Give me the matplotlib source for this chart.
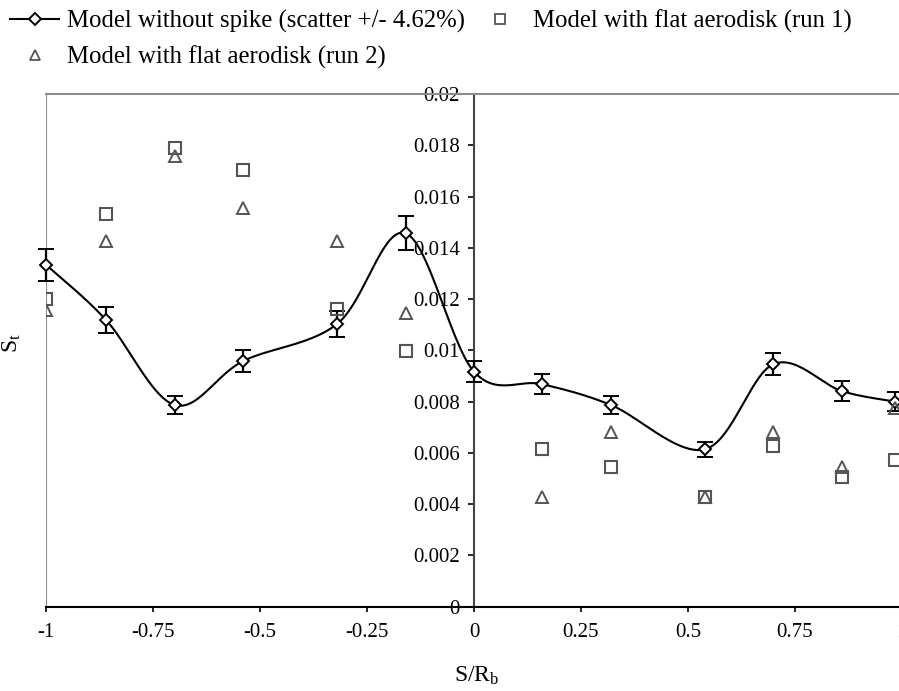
import numpy as np
import matplotlib
matplotlib.use("Agg")
import matplotlib.pyplot as plt
from matplotlib.lines import Line2D

plt.rcParams['font.family'] = ['Liberation Serif', 'DejaVu Serif']
plt.rcParams['mathtext.fontset'] = 'custom'
plt.rcParams['mathtext.rm'] = 'Liberation Serif'
plt.rcParams['mathtext.it'] = 'Liberation Serif:italic'

# ---- data ----
x_pos = [-1.0, -0.86, -0.70, -0.54, -0.32, -0.16, 0.0, 0.16, 0.32, 0.54, 0.70, 0.86, 0.985]
st_no_spike = [0.01333, 0.01118, 0.00787, 0.00958, 0.01103, 0.01457, 0.00917,
               0.00868, 0.00787, 0.00614, 0.00946, 0.00841, 0.00800]
scatter_pct = 4.62
st_run1 = [0.01200, 0.01531, 0.01788, 0.01704, 0.01160, 0.00999,
           0.00614, 0.00544, 0.00427, 0.00628, 0.00505, 0.00572]
st_run2 = [0.01157, 0.01427, 0.01758, 0.01557, 0.01427, 0.01145,
           0.00427, 0.00683, 0.00427, 0.00683, 0.00544, 0.00774]
x_runs = [-1.0, -0.86, -0.70, -0.54, -0.32, -0.16, 0.16, 0.32, 0.54, 0.70, 0.86, 0.985]
x_ticks = [-1, -0.75, -0.5, -0.25, 0, 0.25, 0.5, 0.75, 1]
x_ticklabels = ['-1', '-0.75', '-0.5', '-0.25', '0', '0.25', '0.5', '0.75', '1']
y_ticks = [0, 0.002, 0.004, 0.006, 0.008, 0.01, 0.012, 0.014, 0.016, 0.018, 0.02]
y_ticklabels = ['0', '0.002', '0.004', '0.006', '0.008', '0.01', '0.012', '0.014',
                '0.016', '0.018', '0.02']
labels = ['Model without spike (scatter +/- 4.62%)',
          'Model with flat aerodisk (run 1)',
          'Model with flat aerodisk (run 2)']


def smooth_curve(xs, ys, n=30):
    """Excel-style smoothed line: cubic Bezier with Catmull-Rom control points."""
    P = np.column_stack([xs, ys]).astype(float)
    out = []
    for i in range(len(P) - 1):
        p0 = P[i - 1] if i > 0 else P[i]
        p1 = P[i]
        p2 = P[i + 1]
        p3 = P[i + 2] if i + 2 < len(P) else P[i + 1]
        c1 = p1 + (p2 - p0) / 6.0
        c2 = p2 - (p3 - p1) / 6.0
        t = np.linspace(0, 1, n)[:, None]
        seg = ((1 - t) ** 3) * p1 + 3 * ((1 - t) ** 2) * t * c1 + 3 * (1 - t) * t ** 2 * c2 + t ** 3 * p2
        out.append(seg if i == 0 else seg[1:])
    out = np.vstack(out)
    return out[:, 0], out[:, 1]


fig = plt.figure(figsize=(8.99, 6.91), dpi=100)
W, H = 899, 691
left_px, right_px, top_px, bot_px = 46.3, 901.7, 94.0, 606.7
ax = fig.add_axes([left_px / W, 1 - bot_px / H, (right_px - left_px) / W, (bot_px - top_px) / H])

ax.set_xlim(-1, 1)
ax.set_ylim(0, 0.02)

gray = '#555555'
sx, sy = smooth_curve(x_pos, st_no_spike)
ax.plot(sx, sy, color='black', lw=1.5, zorder=3)
err = np.array(st_no_spike) * scatter_pct / 100.0
ax.errorbar(x_pos, st_no_spike, yerr=err, fmt='D', color='black', mfc='white', mec='black',
            ms=6.5, mew=1.4, ecolor='black', elinewidth=1.6, capsize=5.5, capthick=1.6,
            zorder=4, clip_on=False)
ax.plot(x_runs, st_run1, ls='none', marker='s', ms=8, mfc='none', mec=gray, mew=1.5, zorder=5)
ax.plot(x_runs, st_run2, ls='none', marker='^', ms=9, mfc='none', mec=gray, mew=1.4, zorder=5)

# axes styling
frame_gray = '#8c8c8c'
ax.spines['top'].set_color(frame_gray)
ax.spines['top'].set_linewidth(1.5)
ax.spines['right'].set_color(frame_gray)
ax.spines['left'].set_position(('data', 0))
ax.spines['left'].set_color('#444444')
ax.spines['left'].set_linewidth(1.5)
ax.spines['bottom'].set_color('black')
ax.spines['bottom'].set_linewidth(1.5)
ax.axvline(-1, color=frame_gray, lw=1.5, zorder=1)

ax.set_xticks(x_ticks)
ax.set_xticklabels(x_ticklabels, fontsize=15)
ax.set_yticks(y_ticks)
ax.set_yticklabels(y_ticklabels, fontsize=15)
ax.tick_params(axis='x', direction='out', length=3.8, width=1.2, pad=8, colors='black')
ax.tick_params(axis='y', direction='out', length=4, width=1.2, pad=6, colors='black')

fig.text(477 / W, 1 - 676 / H, 'S/R$_{\\mathrm{b}}$', fontsize=17, ha='center', va='center')
fig.text(12 / W, 1 - 343 / H, 'S$_{\\mathrm{t}}$', fontsize=17, ha='center', va='center', rotation=90)

h1 = Line2D([], [], color='black', lw=1.5, marker='D', ms=6, mfc='white', mec='black', mew=1.4)
h2 = Line2D([], [], ls='none', marker='s', ms=7, mfc='none', mec=gray, mew=1.3)
h3 = Line2D([], [], ls='none', marker='^', ms=7.5, mfc='none', mec=gray, mew=1.3)
fig.legend([h1, h3, h2], [labels[0], labels[2], labels[1]], ncol=2, loc='upper left',
           bbox_to_anchor=(0.0, 1.0), frameon=False, fontsize=17.8, handlelength=2.0,
           handletextpad=0.33, columnspacing=0.4, labelspacing=0.5, borderaxespad=0.2,
           borderpad=0.2)

fig.savefig('out.png', dpi=100)
